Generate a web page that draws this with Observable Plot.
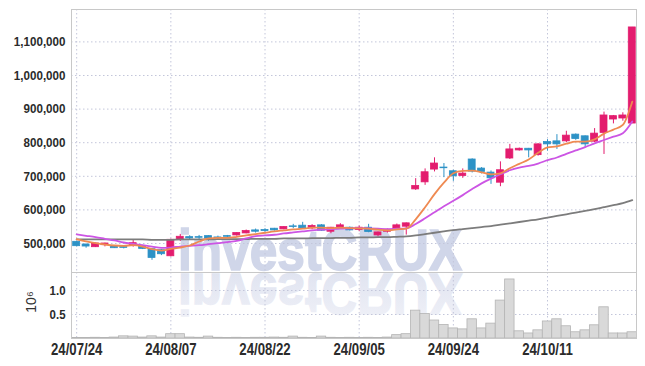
<!DOCTYPE html>
<html><head><meta charset="utf-8">
<script src="https://cdn.jsdelivr.net/npm/d3@7"></script>
<script src="https://cdn.jsdelivr.net/npm/@observablehq/plot@0.6"></script>
<style>
body{margin:0;background:#fff;}
#chart svg{display:block;}
</style></head><body><div id="chart"></div>
<script>
const dates = ["24/07/24","24/07/25","24/07/26","24/07/29","24/07/30","24/07/31","24/08/01","24/08/02","24/08/05","24/08/06",
"24/08/07","24/08/08","24/08/09","24/08/12","24/08/13","24/08/14","24/08/16","24/08/19","24/08/20","24/08/21",
"24/08/22","24/08/23","24/08/26","24/08/27","24/08/28","24/08/29","24/08/30","24/09/02","24/09/03","24/09/04",
"24/09/05","24/09/06","24/09/09","24/09/10","24/09/11","24/09/12","24/09/13","24/09/19","24/09/20","24/09/23",
"24/09/24","24/09/25","24/09/26","24/09/27","24/09/30","24/10/02","24/10/04","24/10/07","24/10/08","24/10/10",
"24/10/11","24/10/14","24/10/15","24/10/16","24/10/17","24/10/18","24/10/21","24/10/22","24/10/23","24/10/24"];
const openP = [505000,497000,489000,495000,492000,490000,495000,490000,483000,480000,
462000,510000,519000,519000,522000,518000,522000,524000,530000,539000,
540000,544000,542000,551000,553000,545000,554000,535000,545000,547000,
540000,547000,524000,535000,542000,550000,661000,682000,720000,726000,
715000,701000,750000,723000,711000,681000,753000,777000,782000,763000,
802000,804000,804000,824000,819000,803000,829000,869000,872000,857000];
const highP = [507000,498000,501000,501000,493000,491000,509000,491000,484000,482000,
513000,527000,523000,524000,523000,522000,524000,532000,540000,543000,
544000,545000,550000,557000,563000,556000,556000,548000,559000,549000,
552000,557000,534000,543000,558000,561000,693000,722000,755000,738000,
718000,722000,752000,726000,716000,743000,795000,784000,783000,797000,
809000,824000,834000,826000,820000,842000,891000,881000,889000,1143000];
const lowP = [490000,486000,488000,490000,485000,484000,489000,482000,450000,464000,
460000,506000,511000,512000,507000,512000,518000,522000,529000,531000,
533000,537000,541000,544000,542000,541000,536000,529000,542000,537000,
535000,532000,520000,531000,541000,525000,658000,673000,713000,696000,
685000,694000,710000,707000,676000,669000,750000,775000,755000,760000,
775000,780000,800000,807000,785000,800000,765000,856000,864000,857000];
const closeP = [492000,491000,500000,500000,486000,487000,501000,484000,457000,468000,
511000,520000,515000,517000,515000,516000,520000,531000,537000,535000,
537000,539000,549000,549000,545000,552000,538000,547000,554000,539000,
547000,534000,533000,541000,554000,560000,671000,712000,738000,724000,
700000,708000,714000,713000,694000,718000,780000,782000,777000,795000,
795000,795000,821000,811000,795000,827000,881000,879000,881000,1143000];
const ma5 = [513000,506000,501000,497000,494000,493000,495000,491000,483000,479000,
484000,488000,494000,506000,515000,517000,517000,520000,524000,528000,
532000,536000,539000,542000,544000,547000,547000,546000,547000,546000,
545000,544000,541000,539000,542000,544000,572000,608000,647000,681000,
709000,716000,717000,712000,706000,709000,724000,737000,750000,770000,
786000,789000,797000,803000,803000,810000,827000,839000,853000,922000];
const ma10 = [527000,523000,519000,514000,509000,503000,499000,495000,491000,487000,
488000,491000,493000,495000,498000,501000,504000,508000,515000,522000,
524000,526000,530000,533000,536000,539000,541000,543000,544000,545000,
546000,545000,544000,543000,544000,545000,558000,575000,593000,611000,
627000,644000,662000,679000,693000,706000,718000,726000,731000,738000,
748000,756000,767000,777000,787000,798000,808000,818000,828000,863000];
const ma60 = [512000,512000,512000,512000,512000,512000,512000,512000,511000,511000,
511000,512000,512000,512000,512000,513000,513000,513000,513000,514000,
514000,514000,515000,515000,515000,516000,516000,516000,517000,517000,
518000,518000,519000,519000,520000,521000,524000,528000,532000,536000,
540000,543000,546000,549000,552000,556000,560000,564000,568000,572000,
577000,582000,587000,592000,597000,602000,608000,614000,620000,629000];
const volume = [0.012,0.010,0.015,0.012,0.020,0.045,0.040,0.020,0.045,0.020,
0.090,0.090,0.020,0.015,0.040,0.015,0.010,0.015,0.010,0.015,
0.015,0.020,0.015,0.040,0.015,0.010,0.040,0.015,0.010,0.015,
0.010,0.015,0.012,0.020,0.070,0.090,0.580,0.510,0.375,0.280,
0.210,0.190,0.400,0.210,0.310,0.790,1.230,0.150,0.105,0.170,
0.355,0.400,0.255,0.130,0.170,0.275,0.650,0.105,0.105,0.130];
const priceTicks = [500000,600000,700000,800000,900000,1000000,1100000];
const volTicks = [0.5,1.0];
const dateTickIdx = [0,10,20,30,40,50];

const table = dates.map((d,i)=>({i, date:d, o:openP[i], h:highP[i], l:lowP[i], c:closeP[i],
  m5:ma5[i], m10:ma10[i], m60:ma60[i], v:volume[i]}));

const UP = "#e31c6e", DOWN = "#2d92c6", GRID = "#c3c6da";
const col = d => d.c >= d.o ? UP : DOWN;
const FONT = '"Liberation Sans",Arial,sans-serif';
const XD = [-0.55, 59.45];

const price = Plot.plot({
  width: 645, height: 272,
  marginLeft: 71, marginRight: 9, marginTop: 9, marginBottom: 0,
  x: {domain: XD, axis: null},
  y: {domain: [413700, 1196400]},
  style: {fontFamily: FONT, background: "#fff", color: "#2b2b2b", fontSize: "13.5px", fontWeight: "bold"},
  marks: [
    Plot.ruleY(priceTicks, {stroke: GRID, strokeDasharray: "1.5,2.5"}),
    Plot.ruleX(dateTickIdx, {stroke: GRID, strokeDasharray: "1.5,2.5"}),
    Plot.axisY({ticks: priceTicks, tickFormat: d3.format(","), tickSize: 0, tickPadding: 6, label: null}),
    Plot.ruleX(table, {x: "i", y1: "l", y2: "h", stroke: col, strokeWidth: 1}),
    Plot.rect(table, {x1: d => d.i - 0.37, x2: d => d.i + 0.37, y1: "o", y2: "c", fill: col, stroke: col, strokeWidth: 0.8}),
    Plot.line(table, {x: "i", y: "m60", stroke: "#7c7c7c", strokeWidth: 1.8, curve: "monotone-x"}),
    Plot.line(table, {x: "i", y: "m10", stroke: "#cc55e4", strokeWidth: 1.8, curve: "monotone-x"}),
    Plot.line(table, {x: "i", y: "m5", stroke: "#ef8a52", strokeWidth: 1.8, curve: "monotone-x"}),
    Plot.frame({stroke: "#c8c8c8"})
  ]
});

const vol = Plot.plot({
  width: 645, height: 94,
  marginLeft: 71, marginRight: 9, marginTop: 0, marginBottom: 28,
  x: {domain: XD},
  y: {domain: [0, 1.375]},
  style: {fontFamily: FONT, background: "#fff", color: "#2b2b2b", fontWeight: "bold"},
  marks: [
    Plot.ruleY(volTicks, {stroke: GRID, strokeDasharray: "1.5,2.5"}),
    Plot.ruleX(dateTickIdx, {stroke: GRID, strokeDasharray: "1.5,2.5"}),
    Plot.rect(table, {x1: d => d.i - 0.5, x2: d => d.i + 0.5, y1: 0, y2: "v", fill: "#d9d9d9", stroke: "#b4b4b4", strokeWidth: 0.8}),
    Plot.axisY({ticks: volTicks, tickFormat: d3.format(".1f"), tickSize: 0, tickPadding: 6, fontSize: 13, label: null}),
    Plot.axisX({ticks: dateTickIdx, tickFormat: i => dates[i], tickSize: 0, tickPadding: 5, fontSize: 16.5, label: null}),
    Plot.frame({stroke: "#c8c8c8"})
  ]
});

// watermark + reflection
d3.select(price).insert("text", "g")
  .attr("x", 178).attr("y", 270).attr("text-anchor", "start")
  .attr("font-family", FONT).attr("font-weight", "bold").attr("font-size", 57)
  .attr("textLength", 284).attr("lengthAdjust", "spacingAndGlyphs")
  .attr("fill", "#d0d6e9").attr("stroke", "#d0d6e9").attr("stroke-width", 1.6)
  .text("investCRUX");
const vs = d3.select(vol);
const defs = vs.insert("defs", "g");
const lg = defs.append("linearGradient").attr("id", "wmfade").attr("x1", 0).attr("y1", 0).attr("x2", 0).attr("y2", 1);
lg.append("stop").attr("offset", "0").attr("stop-color", "#f1f2f8");
lg.append("stop").attr("offset", "1").attr("stop-color", "#dde1ef");
vs.insert("text", "g")
  .attr("transform", "translate(178,2) scale(1,-1)").attr("text-anchor", "start")
  .attr("font-family", FONT).attr("font-weight", "bold").attr("font-size", 57)
  .attr("textLength", 284).attr("lengthAdjust", "spacingAndGlyphs")
  .attr("fill", "url(#wmfade)").attr("stroke", "url(#wmfade)").attr("stroke-width", 1.6)
  .text("investCRUX");
vs.append("text")
  .attr("transform", "translate(36,30) rotate(-90)")
  .attr("text-anchor", "middle")
  .attr("font-family", FONT).attr("font-weight", "normal").attr("font-size", 14)
  .attr("fill", "#333").text("10⁶");

const chart = document.getElementById("chart");
chart.append(price, vol);

// condense axis labels
function condense(svg, sel, f) {
  d3.select(svg).selectAll(sel).each(function() {
    const L = this.getComputedTextLength();
    this.setAttribute("textLength", (L * f).toFixed(1));
    this.setAttribute("lengthAdjust", "spacingAndGlyphs");
  });
}
condense(price, "g[aria-label='y-axis tick label'] text", 0.86);
condense(vol, "g[aria-label='y-axis tick label'] text", 0.88);
condense(vol, "g[aria-label='x-axis tick label'] text", 0.8);
</script>
</body></html>
